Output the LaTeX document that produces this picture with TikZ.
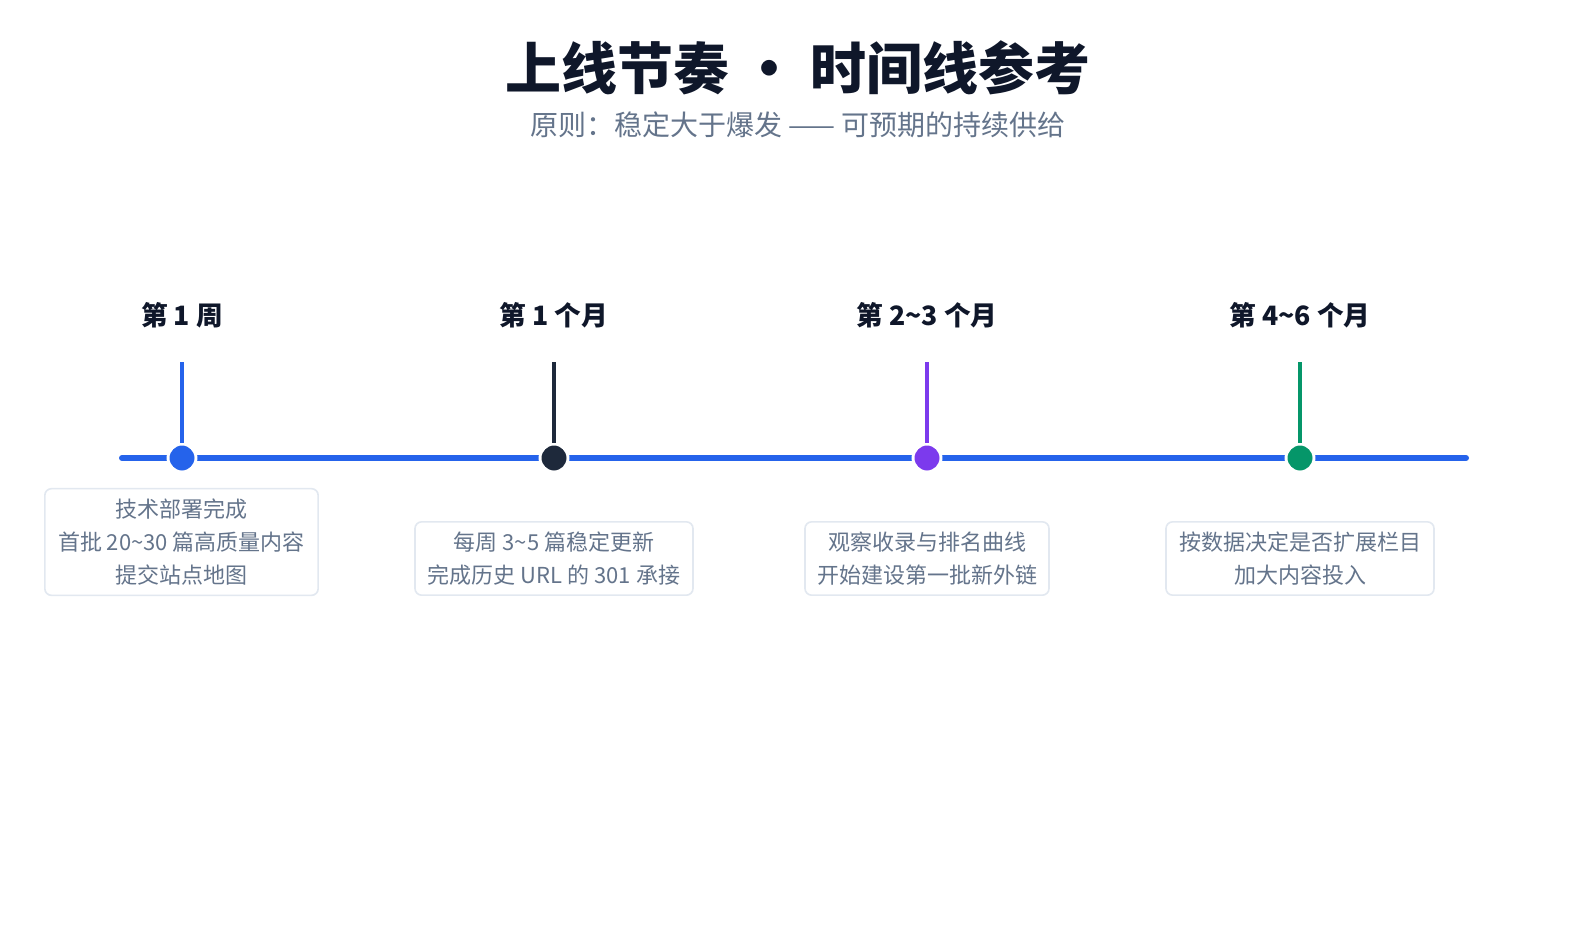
\documentclass[tikz,border=0pt]{standalone}
\usepackage{fontspec}
\setmainfont{Noto Sans CJK SC}
\definecolor{ink}{HTML}{0F172A}
\definecolor{sub}{HTML}{64748B}
\definecolor{bl}{HTML}{2563EB}
\definecolor{dk}{HTML}{1E293B}
\definecolor{pu}{HTML}{7C3AED}
\definecolor{gr}{HTML}{059669}
\definecolor{bdc}{HTML}{E2E8F0}
\newcommand{\tld}{{\char"7E}}
\begin{document}
\begin{tikzpicture}[x=0.75pt,y=-0.75pt,
  lab/.style={font=\fontsize{20}{24}\selectfont\bfseries,text=ink},
  stem/.style={line width=3pt},
  dot/.style={circle,draw=white,line width=2.2pt,minimum size=21pt,inner sep=0pt},
  box/.style={draw=bdc,line width=1.2pt,rounded corners=5pt,fill=white,align=center,
    font=\fontsize{16.5}{24.5}\selectfont,text=sub,inner sep=0pt}]
\fill[white] (0,0) rectangle (1596,931);
\node[font=\fontsize{42}{50}\selectfont\bfseries,text=ink] (t) at (798,68) {上线节奏 · 时间线参考};
\node[font=\fontsize{21}{26}\selectfont,text=sub] (s) at (798,125) {原则：稳定大于爆发 —— 可预期的持续供给};
\coordinate (L) at (122,458); \coordinate (R) at (1466,458);
\draw[bl,line width=4.5pt,line cap=round] (L) -- (R);
\foreach \n/\x/\c/\t in {a/182/bl/第 1 周, b/554/dk/第 1 个月, c/927/pu/第 2\tld 3 个月, d/1300/gr/第 4\tld 6 个月}{
  \node[lab] (l\n) at (\x,315) {\t};
  \coordinate (s\n) at (\x,362);
  \node[dot,fill=\c] (p\n) at (\x,458) {};
  \draw[\c,stem] (s\n) -- (p\n.north);
}
\node[box,minimum width=205pt,minimum height=80pt] (ba) at (181.5,542) {技术部署完成\\首批 20\tld 30 篇高质量内容\\提交站点地图};
\node[box,minimum width=208.5pt,minimum height=55pt] (bb) at (554,558.5) {每周 3\tld 5 篇稳定更新\\完成历史 URL 的 301 承接};
\node[box,minimum width=183pt,minimum height=55pt] (bc) at (927,558.5) {观察收录与排名曲线\\开始建设第一批新外链};
\node[box,minimum width=201pt,minimum height=55pt] (bd) at (1300,558.5) {按数据决定是否扩展栏目\\加大内容投入};
\pgfresetboundingbox
\useasboundingbox (0,0) rectangle (1596,931);
\end{tikzpicture}
\end{document}
